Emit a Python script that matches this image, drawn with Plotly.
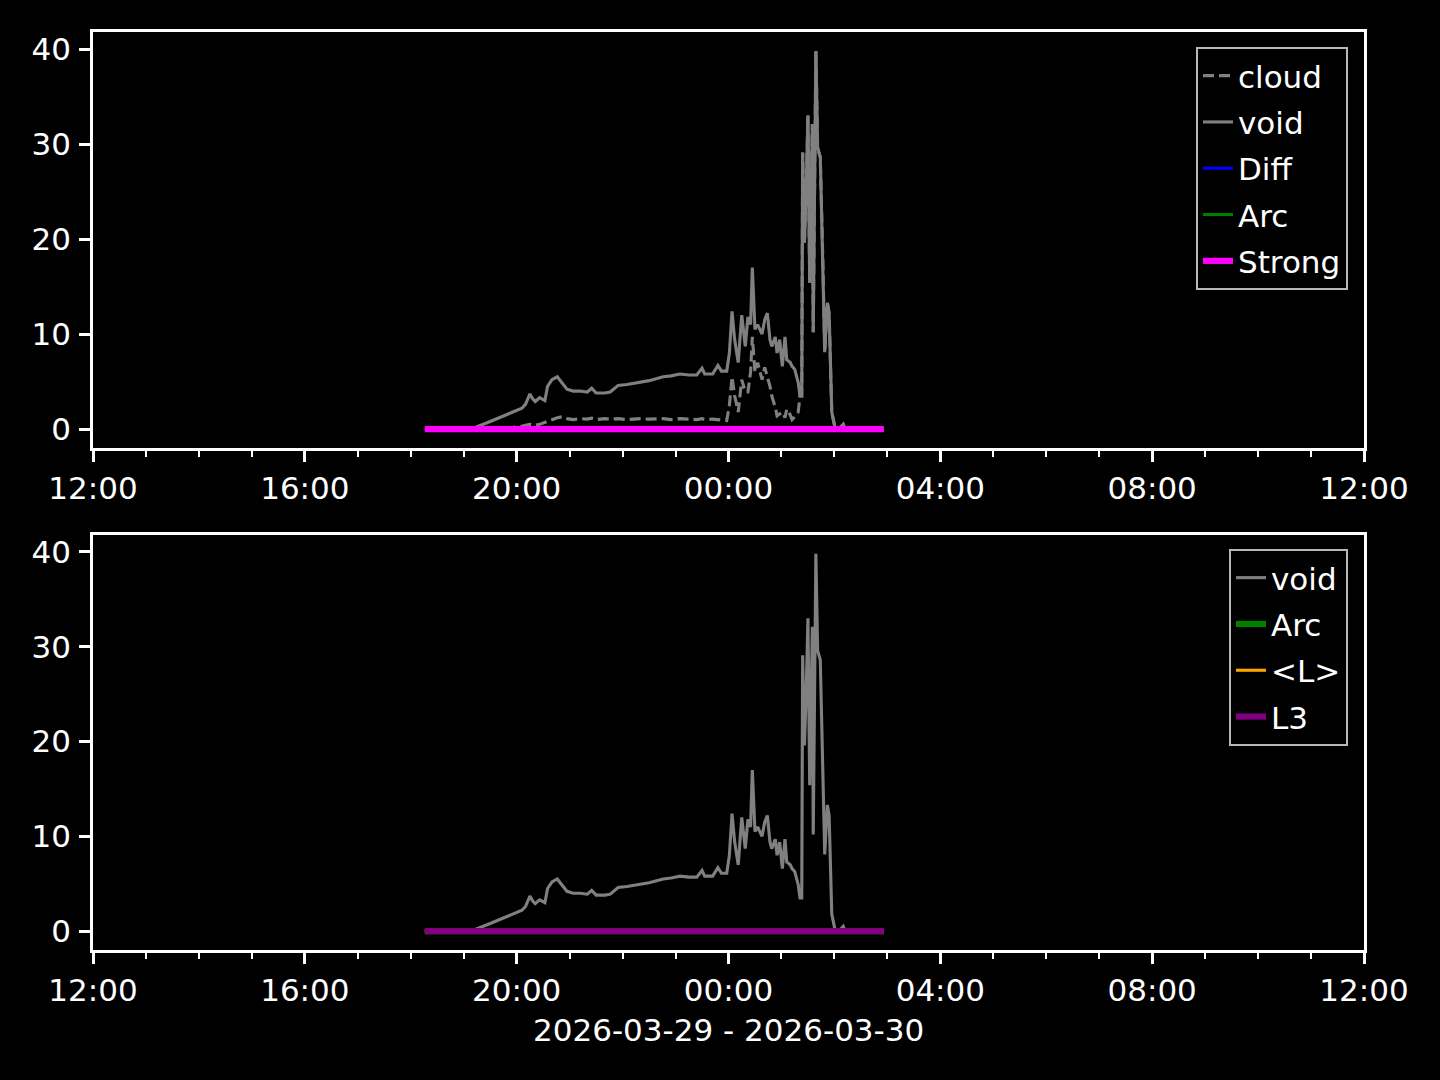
import plotly.graph_objects as go
from plotly.subplots import make_subplots

# ---- data ----
times = ["18:16", "19:08", "19:30", "19:50", "20:00", "20:06", "20:10", "20:15", "20:18",
         "20:21", "20:26", "20:32", "20:35", "20:40", "20:46", "20:52", "20:57", "21:04",
         "21:12", "21:20", "21:25", "21:30", "21:40", "21:46", "21:55", "22:05", "22:20",
         "22:30", "22:46", "22:55", "23:05", "23:15", "23:24", "23:30", "23:33", "23:42",
         "23:48", "23:52", "23:58", "00:01", "00:04", "00:07", "00:11", "00:15", "00:19",
         "00:22", "00:25", "00:27", "00:30", "00:33", "00:38", "00:41", "00:44", "00:47",
         "00:49", "00:53", "00:55", "00:58", "01:01", "01:04", "01:06", "01:10", "01:12",
         "01:15", "01:19", "01:21", "01:23", "01:24", "01:26", "01:28", "01:30", "01:32",
         "01:35", "01:36", "01:39", "01:41", "01:44", "01:47", "01:49", "01:52", "01:54",
         "01:57", "02:01", "02:05", "02:10", "02:12", "02:56"]

void = [0.0, 0.0, 0.8, 1.6, 2.0, 2.2, 2.6, 3.7, 3.2,
        2.9, 3.3, 3.0, 4.5, 5.2, 5.5, 4.8, 4.2, 4.0,
        4.0, 3.9, 4.3, 3.8, 3.8, 3.9, 4.6, 4.7, 4.9,
        5.1, 5.5, 5.6, 5.8, 5.7, 5.7, 6.4, 5.8, 5.8,
        6.7, 6.1, 6.1, 8.0, 12.4, 9.4, 7.0, 12.0, 8.7,
        11.8, 11.0, 17.0, 10.5, 11.0, 10.0, 11.5, 12.2, 9.4,
        8.7, 9.7, 8.0, 9.4, 6.6, 9.7, 7.3, 7.0, 6.6,
        6.3, 4.9, 3.5, 3.5, 29.1, 19.6, 25.0, 33.0, 15.4,
        32.1, 10.2, 39.8, 29.6, 28.6, 17.5, 8.1, 13.3, 12.2,
        1.8, 0.0, 0.0, 0.5, 0.0, 0.0]

cloud = [0.0, 0.0, 0.0, 0.0, 0.3, 0.3, 0.4, 0.5, 0.45,
         0.4, 0.5, 0.7, 0.8, 0.95, 1.2, 1.3, 1.1, 1.0,
         1.1, 1.05, 1.15, 1.0, 1.1, 1.05, 1.1, 1.0, 1.1,
         1.05, 1.1, 1.0, 1.1, 1.05, 1.0, 1.1, 1.0, 1.05,
         1.0, 0.95, 0.9, 2.5, 5.5, 3.5, 1.8, 5.2, 3.9,
         3.9, 6.0, 9.7, 6.0, 7.0, 5.2, 6.5, 5.5, 4.5,
         3.5, 2.3, 1.4, 1.6, 1.8, 1.2, 2.1, 1.5, 1.0,
         1.3, 1.8, 3.5, 3.5, 29.1, 19.6, 25.0, 33.0, 15.4,
         32.1, 10.2, 39.8, 29.6, 28.6, 17.5, 8.1, 13.3, 12.2,
         1.8, 0.0, 0.0, 0.5, 0.0, 0.0]

flat_times = ["18:16", "02:56"]
diff = [0.0, 0.0]
arc = [0.0, 0.0]
strong = [0.0, 0.0]
mean_l = [0.0, 0.0]
l3 = [0.0, 0.0]

x_start = "2026-03-29 12:00"
x_end = "2026-03-30 12:00"
x_label = "2026-03-29 - 2026-03-30"


def to_dt(hm):
    day = "2026-03-29" if int(hm[:2]) >= 12 else "2026-03-30"
    return f"{day} {hm}"


t = [to_dt(s) for s in times]
tf = [to_dt(s) for s in flat_times]

GRAY = "#808080"
FS = 31
FONT = dict(family="DejaVu Sans", size=FS, color="white")
LW1 = 3.1
LW2 = 6.2

fig = make_subplots(rows=2, cols=1)

# top panel
fig.add_trace(go.Scatter(x=t, y=cloud, name="cloud", mode="lines", legendgroup="a1",
                         line=dict(color=GRAY, width=LW1, dash="11px,5px")), row=1, col=1)
fig.add_trace(go.Scatter(x=t, y=void, name="void", mode="lines", legendgroup="a2",
                         line=dict(color=GRAY, width=LW1)), row=1, col=1)
fig.add_trace(go.Scatter(x=tf, y=diff, name="Diff", mode="lines", legendgroup="a3",
                         line=dict(color="#0000ff", width=LW1)), row=1, col=1)
fig.add_trace(go.Scatter(x=tf, y=arc, name="Arc", mode="lines", legendgroup="a4",
                         line=dict(color="#008000", width=LW1)), row=1, col=1)
fig.add_trace(go.Scatter(x=tf, y=strong, name="Strong", mode="lines", legendgroup="a5",
                         line=dict(color="#ff00ff", width=LW2)), row=1, col=1)

# bottom panel
fig.add_trace(go.Scatter(x=t, y=void, name="void", mode="lines", legend="legend2",
                         legendgroup="b1", line=dict(color=GRAY, width=LW1)), row=2, col=1)
fig.add_trace(go.Scatter(x=tf, y=arc, name="Arc", mode="lines", legend="legend2",
                         legendgroup="b2", line=dict(color="#008000", width=LW2)), row=2, col=1)
fig.add_trace(go.Scatter(x=tf, y=mean_l, name="<L>", mode="lines", legend="legend2",
                         legendgroup="b3", line=dict(color="#ffa500", width=LW1)), row=2, col=1)
fig.add_trace(go.Scatter(x=tf, y=l3, name="L3", mode="lines", legend="legend2",
                         legendgroup="b4", line=dict(color="#800080", width=LW2)), row=2, col=1)

W, H = 1440, 1080
xdom = [93 / W, 1364 / W]
ydom_top = [1 - 448 / H, 1 - 32 / H]
ydom_bot = [1 - 950 / H, 1 - 535 / H]

xaxis_common = dict(
    type="date", range=[x_start, x_end], domain=xdom, automargin=False,
    tick0=x_start, dtick=4 * 3600 * 1000, tickformat="%H:%M",
    ticks="outside", ticklen=11, tickwidth=2.5, tickcolor="white",
    ticklabelstandoff=0,
    showline=True, linecolor="white", linewidth=2.5, mirror=True,
    showgrid=False, zeroline=False, tickfont=FONT,
    minor=dict(dtick=3600 * 1000, tick0=x_start, ticks="outside", ticklen=6,
               tickwidth=2, tickcolor="white", showgrid=False),
)
yaxis_common = dict(
    range=[-1.99, 41.79], tickvals=[0, 10, 20, 30, 40], automargin=False,
    ticks="outside", ticklen=11, tickwidth=2.5, tickcolor="white",
    ticklabelstandoff=2,
    showline=True, linecolor="white", linewidth=2.5, mirror=True,
    showgrid=False, zeroline=False, tickfont=FONT,
)

legend_common = dict(xanchor="right", yanchor="top", bgcolor="black",
                     bordercolor="#b8b8b8", borderwidth=2, font=FONT,
                     tracegroupgap=3, traceorder="grouped")

fig.update_layout(
    width=W, height=H,
    margin=dict(l=0, r=0, t=0, b=0),
    paper_bgcolor="black", plot_bgcolor="black",
    font=FONT,
    xaxis=dict(**xaxis_common),
    xaxis2=dict(**xaxis_common),
    yaxis=dict(**yaxis_common, domain=ydom_top),
    yaxis2=dict(**yaxis_common, domain=ydom_bot),
    legend=dict(**legend_common, x=1348 / W, y=1 - 47 / H),
    legend2=dict(**legend_common, x=1348 / W, y=1 - 549 / H),
    showlegend=True,
    annotations=[dict(text=x_label, x=(xdom[0] + xdom[1]) / 2, xref="paper",
                      y=1 - 1030 / H, yref="paper", xanchor="center", yanchor="middle",
                      showarrow=False, font=FONT)],
)

fig.write_html("out.html", config={"displayModeBar": False},
               post_script="document.body.style.margin='0px';document.body.style.background='black';")
